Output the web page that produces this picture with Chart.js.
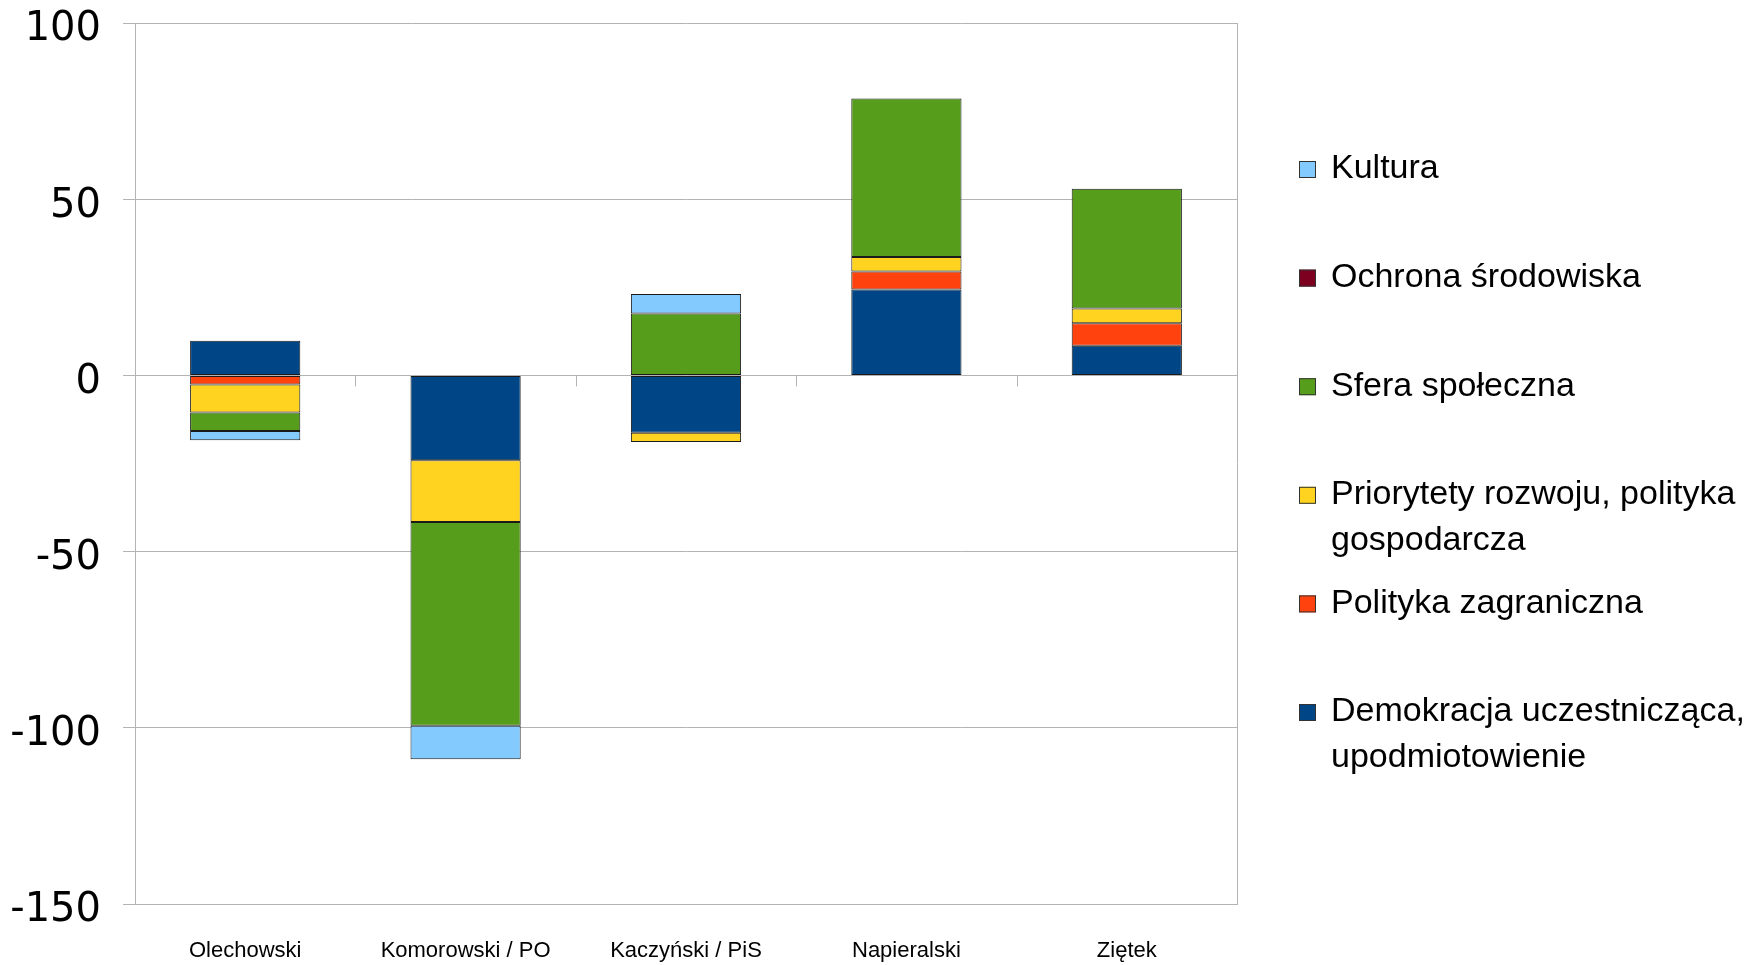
<!DOCTYPE html>
<html>
<head>
<meta charset="utf-8">
<script src="https://cdn.jsdelivr.net/npm/chart.js@4"></script>
<style>
html,body{margin:0;padding:0;background:#fff;}
#wrap{width:1764px;height:965px;}
</style>
</head>
<body>
<div id="wrap"><canvas id="c" width="1764" height="965"></canvas></div>
<script>
// ---- data ----
const categories = ["Olechowski", "Komorowski / PO", "Kaczyński / PiS", "Napieralski", "Ziętek"];
const seriesNames = [
  "Demokracja uczestnicząca, upodmiotowienie",
  "Polityka zagraniczna",
  "Priorytety rozwoju, polityka gospodarcza",
  "Sfera społeczna",
  "Ochrona środowiska",
  "Kultura"
];
const demokracja = [9.8, -24.1, -16.3, 24.4, 8.4];
const politykaZagraniczna = [-2.6, 0, 0, 5.1, 6.4];
const priorytety = [-7.9, -17.5, -2.6, 4.1, 4.2];
const sferaSpoleczna = [-5.3, -57.8, 17.6, 45.0, 34.0];
const ochronaSrodowiska = [0, 0, 0, 0, 0];
const kultura = [-2.6, -9.5, 5.5, 0, 0];
const yTicks = [100, 50, 0, -50, -100, -150];

const seriesValues = [demokracja, politykaZagraniczna, priorytety, sferaSpoleczna, ochronaSrodowiska, kultura];
const seriesColors = ["#004586", "#ff420e", "#ffd320", "#579d1c", "#7e0021", "#83caff"];

const datasets = seriesNames.map((n, i) => ({
  label: n,
  data: seriesValues[i],
  backgroundColor: seriesColors[i],
  borderColor: "#1a1a1a",
  borderWidth: ctx => (ctx.raw === 0 ? 0 : 1),
  borderSkipped: false,
  barPercentage: 0.5,
  categoryPercentage: 1.0
}));

function wrapText(ctx, text, maxW) {
  const words = text.split(" ");
  const lines = [];
  let cur = "";
  words.forEach(w => {
    const test = cur ? cur + " " + w : w;
    if (ctx.measureText(test).width > maxW && cur) { lines.push(cur); cur = w; }
    else cur = test;
  });
  if (cur) lines.push(cur);
  return lines;
}

const sideLegend = {
  id: "sideLegend",
  afterDraw(chart) {
    const ctx = chart.ctx;
    ctx.save();
    ctx.font = '34px "Liberation Sans"';
    ctx.textBaseline = "middle";
    ctx.textAlign = "left";
    const ds = chart.data.datasets.slice().reverse();
    ds.forEach((d, i) => {
      const y = 169 + 108.6 * i;
      ctx.fillStyle = d.backgroundColor;
      ctx.fillRect(1299, y - 8, 17, 17);
      ctx.strokeStyle = "#333";
      ctx.lineWidth = 1;
      ctx.strokeRect(1299.5, y - 7.5, 16, 16);
      ctx.fillStyle = "#000";
      const lines = wrapText(ctx, d.label, 430);
      lines.forEach((l, j) => ctx.fillText(l, 1331, y + j * 46));
    });
    ctx.restore();
  }
};

const frameTicks = {
  id: "frameTicks",
  afterDatasetsDraw(chart) {
    const ctx = chart.ctx;
    const a = chart.chartArea;
    const y0 = chart.scales.y.getPixelForValue(0);
    const n = chart.data.labels.length;
    const w = (a.right - a.left) / n;
    ctx.save();
    ctx.strokeStyle = "#b3b3b3";
    ctx.lineWidth = 1;
    ctx.beginPath();
    for (let i = 1; i < n; i++) {
      const x = Math.round(a.left + i * w) + 0.5;
      ctx.moveTo(x, y0);
      ctx.lineTo(x, y0 + 11);
    }
    ctx.moveTo(Math.round(a.right) + 0.5, a.top);
    ctx.lineTo(Math.round(a.right) + 0.5, a.bottom);
    ctx.stroke();
    ctx.restore();
  }
};

new Chart(document.getElementById("c"), {
  type: "bar",
  data: { labels: categories, datasets },
  options: {
    responsive: false,
    devicePixelRatio: 1,
    animation: false,
    layout: { padding: { left: 0, top: 23, right: 527, bottom: 0 } },
    plugins: { legend: { display: false }, tooltip: { enabled: false } },
    scales: {
      x: {
        stacked: true,
        grid: { display: false, drawTicks: false },
        border: { display: true, color: "#b3b3b3" },
        ticks: { color: "#000", font: { family: "Liberation Sans", size: 22 }, padding: 34, maxRotation: 0, autoSkip: false },
        afterFit: s => { s.height = 61; s.paddingLeft = 0; s.paddingRight = 0; }
      },
      y: {
        stacked: true,
        min: -150,
        max: 100,
        afterBuildTicks: s => { s.ticks = yTicks.map(v => ({ value: v })); },
        grid: { color: "#b3b3b3", tickLength: 12, drawTicks: true },
        border: { display: true, color: "#b3b3b3" },
        ticks: { color: "#000", font: { family: "DejaVu Sans", size: 40 }, padding: 22, labelOffset: 7 },
        afterFit: s => { s.width = 135; s.paddingTop = 0; s.paddingBottom = 0; }
      }
    }
  },
  plugins: [frameTicks, sideLegend]
});
</script>
</body>
</html>
